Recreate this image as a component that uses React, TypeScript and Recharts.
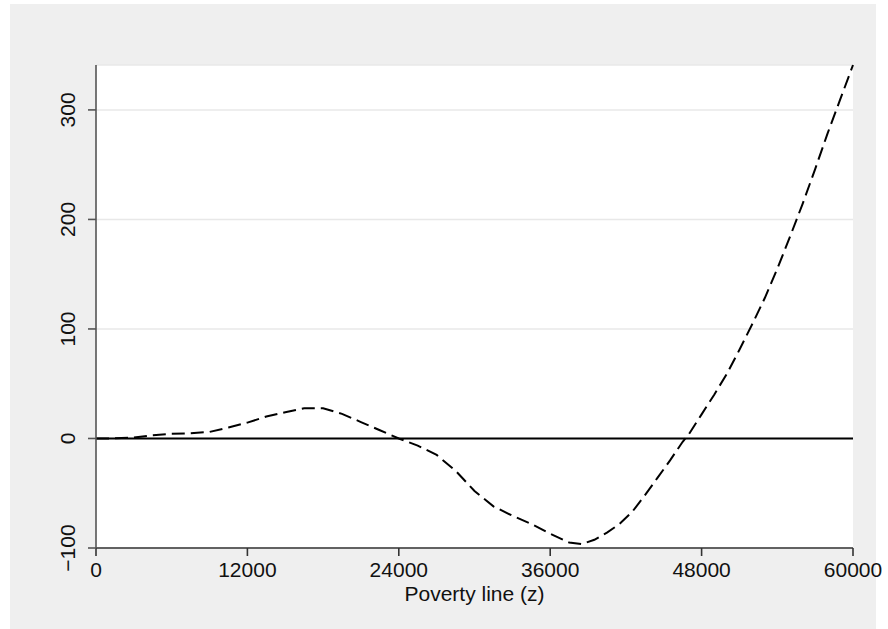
import { CartesianGrid, Line, LineChart, ReferenceLine, XAxis, YAxis } from 'recharts';

// poverty line z and the difference curve
const povertyLine = [
  0, 1500, 3000, 4500, 6000, 7500, 9000, 10500, 12000, 13500, 15000, 16500, 18000, 19500,
  21000, 22500, 24000, 25500, 27000, 28500, 30000, 31500, 33000, 34500, 36000, 37500, 38500,
  39500, 40500, 41500, 42500, 43500, 44500, 45500, 46500, 47000, 48000, 49000, 50000, 51000,
  52000, 53000, 54000, 55000, 56000, 57000, 58000, 59000, 60000,
];
const difference = [
  0, 0.1, 0.8, 3, 4.2, 4.8, 6, 10, 14.5, 20, 24, 27.5, 27.5, 22.5,
  15, 7.5, 0, -6.5, -15, -29.5, -48, -62, -70.5, -78, -87, -95, -96.5,
  -92.5, -86, -78, -67, -52, -36, -20, -3, 4, 22, 40, 59, 81,
  104, 128, 155, 184, 214, 246, 279, 310, 341,
];
const xTicks = [0, 12000, 24000, 36000, 48000, 60000];
const yTicks = [-100, 0, 100, 200, 300];

const data = povertyLine.map((z, i) => ({ z, d: difference[i] }));

const FONT = '"Liberation Sans", Arial, Helvetica, sans-serif';

function XTick({ x, y, payload }: any) {
  return (
    <text x={x} y={y + 19} textAnchor="middle" fontFamily={FONT} fontSize={21} fill="#111">
      {payload.value}
    </text>
  );
}

function YTick({ x, y, payload }: any) {
  const label = payload.value < 0 ? `\u2212${Math.abs(payload.value)}` : `${payload.value}`;
  const bx = x - 11;
  return (
    <text
      x={bx}
      y={y}
      transform={`rotate(-90, ${bx}, ${y})`}
      textAnchor="middle"
      fontFamily={FONT}
      fontSize={21}
      fill="#111"
    >
      {label}
    </text>
  );
}

export default function App() {
  return (
    <div style={{ position: 'absolute', left: 0, top: 0, width: 888, height: 629, background: '#fff' }}>
      {/* grey graph region, the chart svg is a bit wider so the last tick label can spill over */}
      <div style={{ position: 'absolute', left: 10, top: 4, width: 866, height: 625, background: '#efefef' }} />
      <div style={{ position: 'absolute', left: 10, top: 4 }}>
        <LineChart width={878} height={625} data={data} margin={{ top: 61, right: 35, bottom: 0, left: 0 }}>
          <CartesianGrid fill="#fff" vertical={false} stroke="#e8e8e8" strokeWidth={1.5} />
          <XAxis
            dataKey="z"
            type="number"
            domain={[0, 60000]}
            ticks={xTicks}
            height={81}
            tickSize={8}
            tick={<XTick />}
            stroke="#333"
            strokeWidth={1.6}
            label={{
              content: ({ viewBox }: any) => (
                <text
                  x={viewBox.x + viewBox.width / 2}
                  y={597}
                  textAnchor="middle"
                  fontFamily={FONT}
                  fontSize={21}
                  fill="#111"
                >
                  Poverty line (z)
                </text>
              ),
            }}
          />
          <YAxis
            type="number"
            domain={[-100, 341]}
            ticks={yTicks}
            width={86}
            tickSize={8}
            tick={<YTick />}
            stroke="#555"
            strokeWidth={1.6}
          />
          <ReferenceLine y={0} stroke="#000" strokeWidth={2} />
          <Line
            type="linear"
            dataKey="d"
            stroke="#000"
            strokeWidth={2}
            strokeDasharray="13 6"
            dot={false}
            isAnimationActive={false}
          />
        </LineChart>
      </div>
    </div>
  );
}
